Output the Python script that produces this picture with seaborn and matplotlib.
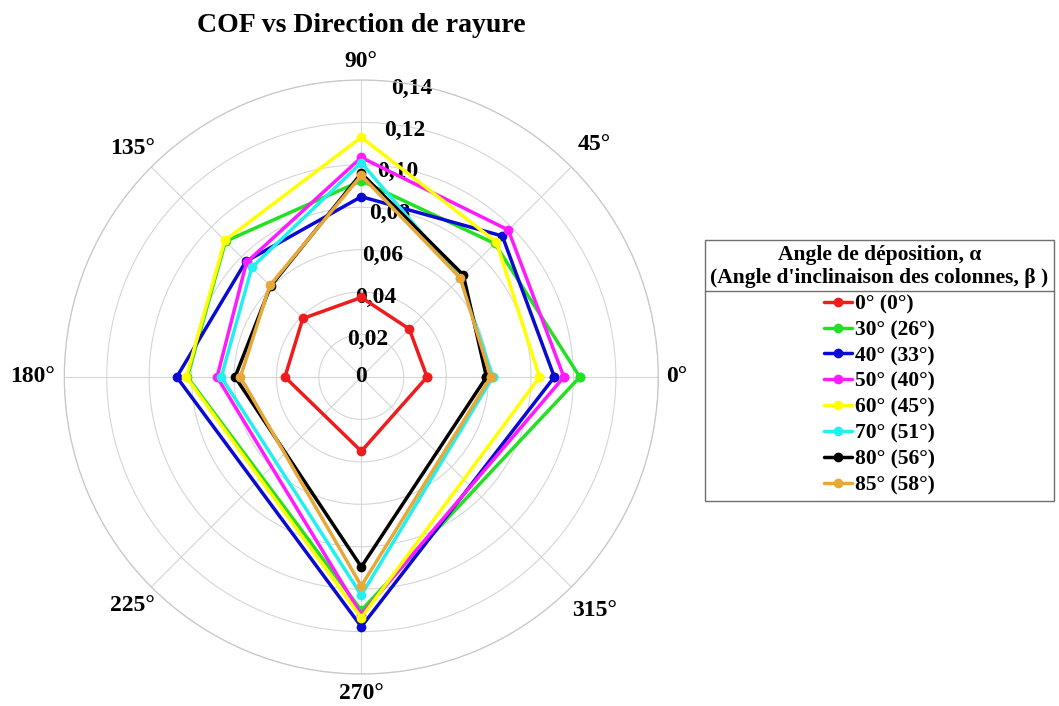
import numpy as np
import pandas as pd
import matplotlib
matplotlib.use('Agg')
import matplotlib.pyplot as plt
import matplotlib.transforms as mtransforms
from matplotlib.lines import Line2D
import seaborn as sns

# Directions de rayure (degrés) et COF
directions = [0, 45, 90, 135, 180, 270]
series_labels = ['0° (0°)', '30° (26°)', '40° (33°)', '50° (40°)',
                 '60° (45°)', '70° (51°)', '80° (56°)', '85° (58°)']
colors = ['#ee1c1c', '#22e022', '#0a0ad2', '#ff1aff',
          '#ffff00', '#22f0f0', '#000000', '#e8a838']

cof_0 = [0.031, 0.032, 0.0375, 0.039, 0.036, 0.035]
cof_30 = [0.103, 0.089, 0.0925, 0.0905, 0.082, 0.110]
cof_40 = [0.091, 0.094, 0.085, 0.077, 0.087, 0.1177]
cof_50 = [0.0955, 0.098, 0.1035, 0.0765, 0.068, 0.112]
cof_60 = [0.084, 0.090, 0.113, 0.091, 0.0825, 0.1135]
cof_70 = [0.062, 0.066, 0.101, 0.073, 0.066, 0.1028]
cof_80 = [0.059, 0.068, 0.096, 0.0605, 0.0595, 0.0895]
cof_85 = [0.061, 0.066, 0.095, 0.061, 0.057, 0.0985]
all_cof = [cof_0, cof_30, cof_40, cof_50, cof_60, cof_70, cof_80, cof_85]

r_ticks = [0, 0.02, 0.04, 0.06, 0.08, 0.10, 0.12, 0.14]
r_tick_labels = ['0', '0,02', '0,04', '0,06', '0,08', '0,10', '0,12', '0,14']
theta_ticks = [0, 45, 90, 135, 180, 225, 270, 315]

# tableau long, chaque polygone refermé sur son premier point
rows = []
for lab, vals in zip(series_labels, all_cof):
    angs = directions + [360]
    vs = vals + [vals[0]]
    for a, v in zip(angs, vs):
        rows.append({'serie': lab, 'theta': np.deg2rad(a), 'cof': v})
df = pd.DataFrame(rows)

sns.set_style('white')
plt.rcParams['font.family'] = ['Liberation Serif', 'DejaVu Serif']
plt.rcParams['font.weight'] = 'bold'
plt.rcParams['text.color'] = 'black'

fig = plt.figure(figsize=(10.59, 7.06), dpi=100)
ax = fig.add_axes([64.3 / 1059, 32 / 706, 594 / 1059, 594 / 706], projection='polar')

sns.lineplot(data=df, x='theta', y='cof', hue='serie', hue_order=series_labels,
             palette=colors, units='serie', estimator=None, sort=False,
             marker='o', markersize=7, markeredgewidth=0, linewidth=2.5,
             legend=False, ax=ax, zorder=3)

ax.set_ylim(0, 0.14)
ax.set_yticks(r_ticks[1:])
ax.set_yticklabels([])
ax.set_xticks(np.deg2rad(theta_ticks))
ax.set_xticklabels([])
ax.set_xlabel('')
ax.set_ylabel('')
ax.grid(True, color='#d6d6d6', linewidth=0.8)
ax.spines['polar'].set_color('#c8c8c8')
ax.spines['polar'].set_linewidth(0.9)

# étiquettes radiales
for v, t in zip(r_ticks, r_tick_labels):
    ax.text(np.deg2rad(80), max(v - 0.0018, 0), t, ha='center', va='center',
            fontsize=17, fontweight='bold', zorder=1.8)

# étiquettes angulaires
theta_pos = {0: (0.1437, 'left'), 45: (0.155, 'center'), 90: (0.1485, 'center'),
             135: (0.1525, 'center'), 180: (0.1444, 'right'), 225: (0.1525, 'center'),
             270: (0.1490, 'center'), 315: (0.1555, 'center')}
for a in theta_ticks:
    r, ha = theta_pos[a]
    ax.text(np.deg2rad(a), r, f'{a}°', ha=ha, va='center', fontsize=17,
            fontweight='bold', clip_on=False)

fig.text(361.3 / 1059, 1 - 25 / 706, 'COF vs Direction de rayure', ha='center',
         va='center', fontsize=20, fontweight='bold')

handles = ax.get_lines()[:len(series_labels)]
leg = ax.legend(handles, series_labels,
                title="Angle de déposition, α\n(Angle d'inclinaison des colonnes, β )",
                loc='upper left', bbox_to_anchor=(705 / 1059, 1 - 240 / 706),
                bbox_transform=fig.transFigure, frameon=True, fancybox=False,
                edgecolor='#707070', framealpha=1,
                prop={'weight': 'bold', 'size': 15.5},
                title_fontproperties={'weight': 'bold', 'size': 15.5},
                handlelength=1.3, handletextpad=0.15, labelspacing=0.27,
                borderpad=0.25, borderaxespad=0)
leg.get_frame().set_linewidth(1.0)
leg.get_title().set_multialignment('center')
leg.get_title().set_color('black')
for txt in leg.get_texts():
    txt.set_color('black')

fig.canvas.draw()
renderer = fig.canvas.get_renderer()
fb = leg.get_frame().get_window_extent(renderer)
tb = leg.get_title().get_window_extent(renderer)
y_sep = tb.y0 - 3
fig.add_artist(Line2D([fb.x0, fb.x1], [y_sep, y_sep], color='#707070', linewidth=1.0,
                      transform=mtransforms.IdentityTransform()))

fig.savefig('out.png', dpi=100)
